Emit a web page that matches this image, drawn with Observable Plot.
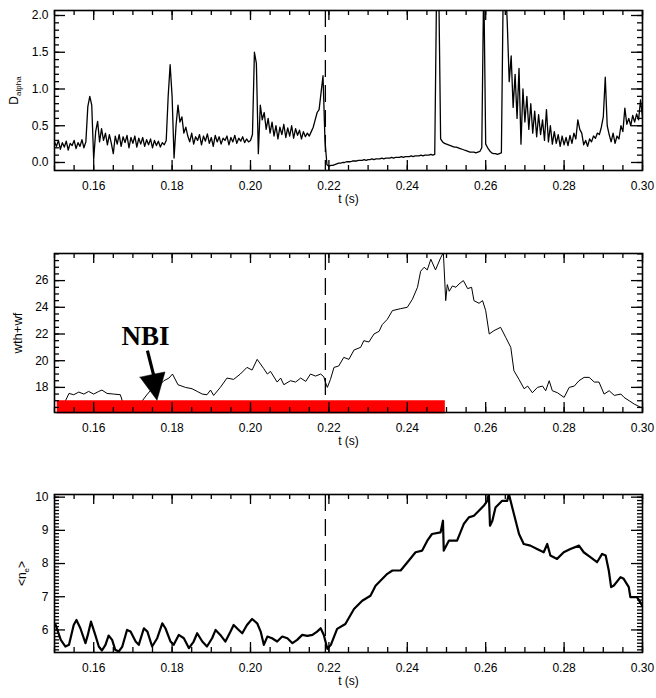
<!DOCTYPE html>
<html><head><meta charset="utf-8">
<script src="https://cdn.jsdelivr.net/npm/d3@7"></script>
<script src="https://cdn.jsdelivr.net/npm/@observablehq/plot@0.6"></script>
<style>
body{margin:0;background:#fff;}
#chart{width:656px;}
.pnl{position:relative;width:656px;}
.pnl svg{position:absolute;left:0;top:0;}
</style></head><body><div id="chart"></div>
<script>
// ---------- shared axis data ----------
const xDomain = [0.15, 0.30];
const xMajor = [0.16, 0.18, 0.20, 0.22, 0.24, 0.26, 0.28, 0.30];
const eventTime = [0.2191];
const xLabel = "t (s)";
const yTitles = ["D_alpha", "wth+wf", "<n_e>"];

// ---------- panel 1: D_alpha ----------
const dTime = [
0.1500,0.1505,0.1510,0.1515,0.1520,0.1525,0.1530,0.1535,0.1540,0.1545,
0.1550,0.1555,0.1560,0.1565,0.1570,0.1575,0.1580,0.1585,0.1590,0.1595,
0.1600,0.1605,0.1610,0.1615,0.1620,0.1625,0.1630,0.1635,0.1640,0.1645,
0.1650,0.1655,0.1660,0.1665,0.1670,0.1675,0.1680,0.1685,0.1690,0.1695,
0.1700,0.1705,0.1710,0.1715,0.1720,0.1725,0.1730,0.1735,0.1740,0.1745,
0.1750,0.1755,0.1760,0.1765,0.1770,0.1775,0.1780,0.1785,0.1790,0.1795,
0.1800,0.1805,0.1810,0.1815,0.1820,0.1825,0.1830,0.1835,0.1840,0.1845,
0.1850,0.1855,0.1860,0.1865,0.1870,0.1875,0.1880,0.1885,0.1890,0.1895,
0.1900,0.1905,0.1910,0.1915,0.1920,0.1925,0.1930,0.1935,0.1940,0.1945,
0.1950,0.1955,0.1960,0.1965,0.1970,0.1975,0.1980,0.1985,0.1990,0.1995,
0.2000,0.2005,0.2010,0.2015,0.2020,0.2025,0.2030,0.2035,0.2040,0.2045,
0.2050,0.2055,0.2060,0.2065,0.2070,0.2075,0.2080,0.2085,0.2090,0.2095,
0.2100,0.2105,0.2110,0.2115,0.2120,0.2125,0.2130,0.2135,0.2140,0.2145,
0.2150,0.2155,0.2160,0.2165,0.2170,0.2175,0.2180,0.2185,0.2190,0.2195,
0.2200,0.2205,0.2210,0.2215,0.2220,0.2225,0.2230,0.2235,0.2240,0.2245,
0.2250,0.2255,0.2260,0.2265,0.2270,0.2275,0.2280,0.2285,0.2290,0.2295,
0.2300,0.2305,0.2310,0.2315,0.2320,0.2325,0.2330,0.2335,0.2340,0.2345,
0.2350,0.2355,0.2360,0.2365,0.2370,0.2375,0.2380,0.2385,0.2390,0.2395,
0.2400,0.2405,0.2410,0.2415,0.2420,0.2425,0.2430,0.2435,0.2440,0.2445,
0.2450,0.2455,0.2460,0.2465,0.2470,0.2475,0.2480,0.2485,0.2490,0.2495,
0.2500,0.2505,0.2510,0.2515,0.2520,0.2525,0.2530,0.2535,0.2540,0.2545,
0.2550,0.2555,0.2560,0.2565,0.2570,0.2575,0.2580,0.2585,0.2590,0.2595,
0.2600,0.2605,0.2610,0.2615,0.2620,0.2625,0.2630,0.2635,0.2640,0.2645,
0.2650,0.2655,0.2660,0.2665,0.2670,0.2675,0.2680,0.2685,0.2690,0.2695,
0.2700,0.2705,0.2710,0.2715,0.2720,0.2725,0.2730,0.2735,0.2740,0.2745,
0.2750,0.2755,0.2760,0.2765,0.2770,0.2775,0.2780,0.2785,0.2790,0.2795,
0.2800,0.2805,0.2810,0.2815,0.2820,0.2825,0.2830,0.2835,0.2840,0.2845,
0.2850,0.2855,0.2860,0.2865,0.2870,0.2875,0.2880,0.2885,0.2890,0.2895,
0.2900,0.2905,0.2910,0.2915,0.2920,0.2925,0.2930,0.2935,0.2940,0.2945,
0.2950,0.2955,0.2960,0.2965,0.2970,0.2975,0.2980,0.2985,0.2990,0.2995,
0.3000];
const dVal = [
0.28,0.22,0.30,0.18,0.27,0.21,0.29,0.17,0.26,0.23,
0.30,0.19,0.27,0.22,0.31,0.20,0.28,0.76,0.90,0.78,
0.04,0.42,0.56,0.28,0.46,0.30,0.40,0.24,0.38,0.26,
0.12,0.36,0.25,0.38,0.22,0.35,0.27,0.37,0.20,0.34,
0.26,0.36,0.21,0.33,0.25,0.34,0.22,0.31,0.24,0.32,
0.20,0.30,0.23,0.29,0.21,0.27,0.24,0.30,0.90,1.33,
0.90,0.06,0.50,0.78,0.55,0.62,0.40,0.48,0.36,0.28,
0.40,0.25,0.35,0.30,0.38,0.24,0.36,0.29,0.39,0.26,
0.34,0.22,0.37,0.28,0.35,0.25,0.33,0.30,0.36,0.24,
0.34,0.28,0.37,0.26,0.33,0.29,0.35,0.27,0.32,0.28,
0.30,0.38,1.50,1.35,0.12,0.78,0.58,0.68,0.45,0.60,
0.40,0.55,0.36,0.50,0.32,0.48,0.38,0.52,0.34,0.47,
0.36,0.50,0.33,0.46,0.37,0.44,0.32,0.42,0.35,0.40,
0.36,0.42,0.48,0.58,0.68,0.72,0.95,1.18,0.30,-0.03,
-0.05,-0.04,-0.04,-0.03,-0.02,-0.01,-0.01,0.00,0.00,0.01,
0.01,0.01,0.02,0.02,0.02,0.03,0.03,0.03,0.04,0.03,
0.04,0.04,0.05,0.04,0.05,0.05,0.05,0.06,0.05,0.06,
0.06,0.06,0.07,0.06,0.07,0.07,0.07,0.08,0.07,0.08,
0.08,0.08,0.09,0.08,0.09,0.09,0.09,0.10,0.09,0.10,
0.10,0.10,0.11,0.10,0.11,2.50,2.50,0.32,0.28,0.26,
0.25,0.24,0.23,0.22,0.21,0.21,0.20,0.19,0.18,0.17,
0.16,0.15,0.14,0.14,0.14,0.13,0.14,0.15,0.20,2.50,
0.25,0.20,0.16,0.13,0.12,0.12,0.11,0.12,0.13,2.50,
2.50,1.90,1.10,1.45,0.75,1.20,0.60,1.28,0.25,1.00,
0.55,0.90,0.45,0.80,0.40,0.70,0.35,0.65,0.38,0.58,
0.30,0.72,0.28,0.50,0.25,0.42,0.26,0.38,0.22,0.36,
0.24,0.34,0.23,0.37,0.26,0.40,0.32,0.58,0.45,0.40,
0.24,0.30,0.22,0.32,0.28,0.36,0.33,0.40,0.38,0.48,
0.62,1.16,0.50,0.38,0.28,0.40,0.26,0.36,0.32,0.50,
0.42,0.74,0.52,0.60,0.50,0.64,0.55,0.66,0.58,0.85,
0.62];
const dYMajor = [0.0, 0.5, 1.0, 1.5, 2.0];

// ---------- panel 2: wth+wf ----------
const wTime = [
0.1528,0.1537,0.1549,0.1562,0.1575,0.1587,0.1600,0.1613,0.1621,0.1634,
0.1651,0.1668,0.1675,0.1690,0.1710,0.1724,0.1737,0.1749,0.1762,0.1779,
0.1792,0.1801,0.1815,0.1834,0.1851,0.1864,0.1877,0.1889,0.1898,0.1906,
0.1923,0.1940,0.1957,0.1974,0.1991,0.2004,0.2017,0.2034,0.2043,0.2051,
0.2068,0.2077,0.2085,0.2102,0.2115,0.2128,0.2141,0.2153,0.2166,0.2179,
0.2187,0.2191,0.2196,0.2204,0.2213,0.2225,0.2238,0.2251,0.2264,0.2281,
0.2289,0.2302,0.2315,0.2328,0.2336,0.2349,0.2362,0.2383,0.2400,0.2413,
0.2426,0.2434,0.2443,0.2451,0.2460,0.2472,0.2485,0.2492,0.2498,0.2502,
0.2507,0.2515,0.2524,0.2532,0.2543,0.2554,0.2564,0.2570,0.2583,0.2592,
0.2600,0.2609,0.2621,0.2638,0.2651,0.2664,0.2672,0.2685,0.2698,0.2707,
0.2719,0.2732,0.2745,0.2753,0.2762,0.2770,0.2783,0.2800,0.2813,0.2826,
0.2838,0.2851,0.2864,0.2877,0.2889,0.2902,0.2915,0.2928,0.2945,0.2953,
0.2966,0.2979,0.2996];
const wVal = [
17.0,17.55,17.45,17.65,17.5,17.7,17.5,17.7,17.8,17.55,
17.5,17.45,16.8,16.5,16.6,17.0,17.5,17.9,18.0,18.5,
18.7,19.0,18.2,18.0,17.9,17.7,17.5,17.45,17.8,17.4,
18.0,18.7,18.6,19.0,19.5,19.3,20.1,19.4,19.0,19.2,
18.4,18.7,18.2,18.5,18.4,18.7,18.45,19.0,18.85,19.0,
18.8,18.4,18.0,18.6,19.5,19.6,20.25,20.1,20.8,21.0,
21.5,21.4,22.0,22.2,22.7,23.1,23.75,23.9,24.0,24.6,
25.5,26.7,27.0,26.8,27.6,26.8,27.7,28.1,24.5,25.7,
25.2,25.6,25.5,25.75,26.0,25.4,25.5,24.5,24.3,24.5,
23.75,22.0,22.25,22.5,21.75,21.0,19.25,18.6,17.9,18.1,
17.6,18.0,18.1,17.75,18.5,17.75,17.6,17.25,18.0,18.1,
18.5,18.75,18.75,18.4,18.4,17.5,17.75,17.4,17.5,17.25,
17.0,16.75,16.5];
const wYMajor = [18, 20, 22, 24, 26];
const nbiStart = 0.1507, nbiEnd = 0.2497;
const nbiLabel = "NBI";

// ---------- panel 3: <n_e> ----------
const nTime = [
0.1503,0.1516,0.1528,0.1537,0.1549,0.1556,0.1566,0.1579,0.1585,0.1593,
0.1604,0.1613,0.1621,0.1630,0.1638,0.1647,0.1655,0.1664,0.1673,0.1685,
0.1694,0.1707,0.1715,0.1728,0.1737,0.1749,0.1762,0.1775,0.1783,0.1796,
0.1804,0.1817,0.1830,0.1843,0.1855,0.1864,0.1877,0.1889,0.1902,0.1911,
0.1923,0.1936,0.1949,0.1957,0.1970,0.1979,0.1991,0.2004,0.2017,0.2026,
0.2034,0.2043,0.2055,0.2068,0.2081,0.2094,0.2107,0.2119,0.2132,0.2145,
0.2158,0.2170,0.2179,0.2187,0.2196,0.2205,0.2221,0.2242,0.2264,0.2285,
0.2306,0.2319,0.2349,0.2362,0.2383,0.2404,0.2421,0.2438,0.2451,0.2463,
0.2485,0.2491,0.2493,0.2506,0.2527,0.2544,0.2557,0.2570,0.2595,0.2604,
0.2608,0.2611,0.2617,0.2625,0.2642,0.2655,0.2659,0.2672,0.2685,0.2697,
0.2714,0.2731,0.2748,0.2757,0.2765,0.2782,0.2799,0.2816,0.2838,0.2850,
0.2867,0.2884,0.2897,0.2906,0.2914,0.2920,0.2927,0.2944,0.2952,0.2965,
0.2969,0.2986,0.2999];
const nVal = [
6.15,5.70,5.50,5.55,6.15,6.30,6.05,5.60,5.85,6.25,
5.85,5.50,5.38,5.55,5.83,5.70,5.40,5.35,5.50,6.00,
5.95,5.65,5.55,6.05,5.95,5.50,5.75,6.20,6.05,5.65,
5.55,5.85,5.75,5.45,5.65,5.90,5.65,5.50,5.75,6.00,
5.85,5.65,5.95,6.15,6.00,5.90,6.15,6.33,6.20,5.95,
5.55,5.80,5.75,5.65,5.80,5.75,5.60,5.70,5.85,5.82,
5.85,5.95,6.05,5.85,5.43,5.55,6.03,6.18,6.63,6.88,
7.03,7.33,7.69,7.79,7.79,8.09,8.34,8.39,8.69,8.89,
8.94,9.29,8.39,8.69,8.69,9.19,9.39,9.44,9.74,9.89,
10.10,9.14,9.29,9.69,9.89,9.89,10.10,9.49,8.89,8.59,
8.54,8.44,8.34,8.59,8.24,8.14,8.34,8.44,8.54,8.34,
8.19,8.04,8.29,8.24,7.79,7.29,7.34,7.59,7.54,7.29,
6.99,6.99,6.74];
const nYMajor = [6, 7, 8, 9, 10];

// ---------- drawing ----------
const W = 656, ML = 54, MR = 14;
const FONT = "'Liberation Sans', Arial, Helvetica, sans-serif";
const xMinor = d3.range(0.15, 0.3001, 0.005);

function tickMarks(yDomain, yMaj, yMin, ih, iw) {
  const [y0, y1] = yDomain, [x0, x1] = xDomain;
  const ky = (y1 - y0) / ih, kx = (x1 - x0) / iw;   // data units per pixel
  const o = {stroke: "black", strokeWidth: 1.3};
  const xt = (arr, len) => [
    Plot.ruleX(arr, {...o, x: d => d, y1: () => y0, y2: () => y0 + len * ky}),
    Plot.ruleX(arr, {...o, x: d => d, y1: () => y1, y2: () => y1 - len * ky})
  ];
  const yt = (arr, len) => [
    Plot.ruleY(arr, {...o, y: d => d, x1: () => x0, x2: () => x0 + len * kx}),
    Plot.ruleY(arr, {...o, y: d => d, x1: () => x1, x2: () => x1 - len * kx})
  ];
  return [...xt(xMinor, 5), ...xt(xMajor, 10), ...yt(yMin, 5), ...yt(yMaj, 11)];
}

function panel(cfg) {
  const {time, val, yDomain, yMajor, yMinor, yFormat, yTitle, titleDx, titleSize = 12,
         height, mt, mb, lineWidth, over = []} = cfg;
  const ih = height - mt - mb, iw = W - ML - MR;
  const data = time.map((t, i) => ({t, v: val[i]}));
  const dims = {width: W, height, marginLeft: ML, marginRight: MR, marginTop: mt, marginBottom: mb};
  const main = Plot.plot({
    ...dims,
    style: {fontFamily: FONT, fontSize: "12px", background: "white", color: "black"},
    x: {domain: xDomain, axis: null},
    y: {domain: yDomain, axis: null},
    marks: [
      Plot.line(data, {x: "t", y: "v", stroke: "black", strokeWidth: lineWidth, clip: true}),
      Plot.ruleX(eventTime, {x: d => d, stroke: "black", strokeWidth: 1.3, strokeDasharray: "17,8"}),
      ...over,
      Plot.axisX(xMajor, {tickSize: 0, tickPadding: 11, tickFormat: d3.format(".2f"), label: null, fill: "black"}),
      Plot.axisY(yMajor, {tickSize: 0, tickPadding: 6, tickFormat: yFormat, label: null, fill: "black"}),
      Plot.text([xLabel], {frameAnchor: "bottom", dy: 32, text: d => d, fill: "black", fontSize: 12}),
      Plot.text([yTitle], {frameAnchor: "left", dx: titleDx, rotate: -90, text: d => d,
                            textAnchor: "middle", fill: "black", fontSize: titleSize})
    ]
  });
  // frame and inward ticks on a transparent layer above
  const ticks = Plot.plot({
    ...dims,
    style: {background: "transparent"},
    x: {domain: xDomain, axis: null},
    y: {domain: yDomain, axis: null},
    marks: [
      ...tickMarks(yDomain, yMajor, yMinor, ih, iw),
      Plot.frame({stroke: "black", strokeWidth: 1.6})
    ]
  });
  subscriptTitles(main);
  const div = document.createElement("div");
  div.className = "pnl";
  div.style.height = height + "px";
  div.appendChild(main);
  div.appendChild(ticks);
  return div;
}

function subscriptTitles(svg) {
  d3.select(svg).selectAll("text").each(function () {
    const s = this.textContent;
    if (!yTitles.includes(s)) return;
    const m = s.match(/^([^_]*)_([a-z]+)(.*)$/);
    if (!m) return;
    const t = d3.select(this);
    t.text(null);
    t.append("tspan").text(m[1]);
    t.append("tspan").attr("dy", 3).attr("font-size", 8).text(m[2]);
    if (m[3]) t.append("tspan").attr("dy", -3).text(m[3]);
  });
}

const p1 = panel({
  time: dTime, val: dVal, yDomain: [-0.109, 2.068], yMajor: dYMajor,
  yMinor: d3.range(0, 2.05, 0.1), yFormat: d3.format(".1f"), yTitle: yTitles[0], titleDx: -40,
  height: 212, mt: 10, mb: 42, lineWidth: 1.3
});

// arrow (annotation) geometry in data units
const arrowShaft = [{x1: 0.1737, y1: 20.75, x2: 0.17535, y2: 18.85}];
const arrowHead = [
  {t: 0.17194, lo: 18.73, hi: 18.73},
  {t: 0.17628, lo: 17.0, hi: 19.0},
  {t: 0.17832, lo: 19.12, hi: 19.12}
];

const p2 = panel({
  time: wTime, val: wVal, yDomain: [16.12, 28.03], yMajor: wYMajor,
  yMinor: d3.range(16.5, 28.01, 0.5), yFormat: d3.format("d"), yTitle: yTitles[1], titleDx: -37, titleSize: 13,
  height: 238, mt: 41, mb: 38, lineWidth: 1,
  over: [
    Plot.rect([{x1: nbiStart, x2: nbiEnd}], {x1: "x1", x2: "x2", y1: () => 16.02, y2: () => 17.0, fill: "#ff0000"}),
    Plot.text([{t: 0.1732, v: 21.2, label: nbiLabel}], {x: "t", y: "v", text: "label",
      fontFamily: "'Liberation Serif', 'Times New Roman', serif",
      fontWeight: "bold", fontSize: 27, lineAnchor: "bottom", textAnchor: "middle", fill: "black"}),
    Plot.link(arrowShaft, {x1: "x1", y1: "y1", x2: "x2", y2: "y2", stroke: "black", strokeWidth: 3.2}),
    Plot.areaY(arrowHead, {x: "t", y1: "lo", y2: "hi", fill: "black", stroke: "black", strokeWidth: 0.5})
  ]
});

const p3 = panel({
  time: nTime, val: nVal, yDomain: [5.32, 10.08], yMajor: nYMajor,
  yMinor: d3.range(5.4, 10.05, 0.1), yFormat: d3.format("d"), yTitle: yTitles[2], titleDx: -32,
  height: 248, mt: 44, mb: 46, lineWidth: 2.2
});

const root = document.getElementById("chart");
for (const p of [p1, p2, p3]) root.appendChild(p);
</script>
</body></html>
